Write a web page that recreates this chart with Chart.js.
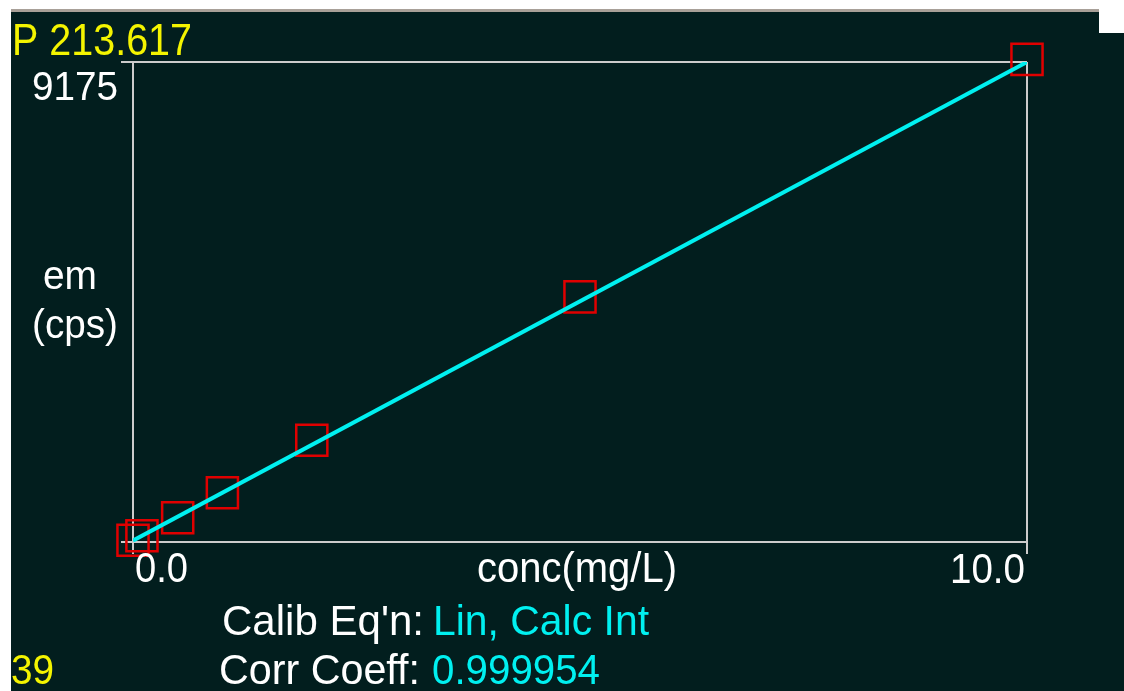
<!DOCTYPE html>
<html>
<head>
<meta charset="utf-8">
<script src="https://cdn.jsdelivr.net/npm/chart.js@4.4.1/dist/chart.umd.min.js"></script>
<style>
  html, body { margin: 0; padding: 0; background: #ffffff; width: 1124px; height: 691px; overflow: hidden; }
  #panel { position: absolute; left: 11px; top: 9px; width: 1113px; height: 682px; background: #021e1e; border-top: 3px solid #a8a098; box-sizing: border-box; }
  #notch { position: absolute; left: 1099px; top: 0; width: 25px; height: 33px; background: #ffffff; }
  #c { position: absolute; left: 0; top: 0; }
</style>
</head>
<body>
<div id="panel"></div>
<div id="notch"></div>
<canvas id="c" width="1124" height="691"></canvas>
<script>
// ---- data ----
const standardConc = [0, 0.1, 0.5, 1, 2, 5, 10];          // mg/L
const standardCps  = [34, 120, 464, 941, 1944, 4686, 9226]; // em (cps)
const fitConc = [0, 10];
const fitCps  = [26, 9175];
const xTickValues = [0, 10];
const xTickLabels = ['0.0', '10.0'];
const yTickValues = [0, 9175];
const yTickLabel = '9175';
const wavelengthLabel = 'P 213.617';
const cornerNumber = '39';
const calibEqn = 'Lin, Calc Int';
const corrCoeff = '0.999954';

const CYAN = '#00f0f0', RED = '#e00000', FRAME = '#cccccc', YELLOW = '#f4f400', WHITE = '#ffffff';

function fitText(ctx, text, left, right, baseline, size, color) {
  ctx.save();
  ctx.font = size + 'px "Liberation Sans", Arial, sans-serif';
  ctx.textBaseline = 'alphabetic';
  ctx.textAlign = 'left';
  const w = ctx.measureText(text).width;
  const sx = (right - left) / w;
  ctx.translate(left, baseline);
  ctx.scale(sx, 1);
  ctx.fillStyle = color;
  ctx.fillText(text, 0, 0);
  ctx.restore();
}

const textPlugin = {
  id: 'texts',
  afterDraw(chart) {
    const ctx = chart.ctx;
    fitText(ctx, wavelengthLabel, 12, 192, 55, 45, YELLOW);
    fitText(ctx, yTickLabel, 32, 118, 100, 41, WHITE);
    fitText(ctx, 'em', 43, 97, 289, 41, WHITE);
    fitText(ctx, '(cps)', 32, 118, 338, 41, WHITE);
    fitText(ctx, xTickLabels[0], 135, 188, 582, 42, WHITE);
    fitText(ctx, 'conc(mg/L)', 477, 677, 582, 42, WHITE);
    fitText(ctx, xTickLabels[1], 950, 1025, 583, 42, WHITE);
    fitText(ctx, "Calib Eq'n:", 222, 424, 635, 42, WHITE);
    fitText(ctx, calibEqn, 433, 649, 635, 42, CYAN);
    fitText(ctx, 'Corr Coeff:', 219, 420, 684, 42, WHITE);
    fitText(ctx, corrCoeff, 432, 600, 684, 42, CYAN);
    fitText(ctx, cornerNumber, 11, 54, 684, 42, YELLOW);
  }
};

new Chart(document.getElementById('c'), {
  type: 'scatter',
  data: {
    datasets: [
      {
        type: 'line',
        data: fitConc.map((x, i) => ({ x, y: fitCps[i] })),
        borderColor: CYAN,
        borderWidth: 4,
        pointRadius: 0,
        fill: false,
        order: 0
      },
      {
        data: standardConc.map((x, i) => ({ x, y: standardCps[i] })),
        pointStyle: 'rect',
        pointRadius: 22,
        borderColor: RED,
        borderWidth: 2.5,
        backgroundColor: 'rgba(0,0,0,0)',
        clip: false,
        order: 1
      }
    ]
  },
  options: {
    responsive: false,
    animation: false,
    events: [],
    layout: { padding: { left: 0, top: 62, right: 97, bottom: 0 } },
    plugins: { legend: { display: false }, tooltip: { enabled: false } },
    scales: {
      x: {
        type: 'linear', min: 0, max: 10,
        afterBuildTicks: s => { s.ticks = xTickValues.map(v => ({ value: v })); },
        afterFit: s => { s.height = 149; },
        ticks: { display: false },
        border: { display: false },
        grid: { color: FRAME, lineWidth: 2, drawTicks: true, tickLength: 12 }
      },
      y: {
        type: 'linear', min: 0, max: 9175,
        afterBuildTicks: s => { s.ticks = yTickValues.map(v => ({ value: v })); },
        afterFit: s => { s.width = 133; },
        ticks: { display: false },
        border: { display: false },
        grid: { color: FRAME, lineWidth: 2, drawTicks: true, tickLength: 12 }
      }
    }
  },
  plugins: [textPlugin]
});
</script>
</body>
</html>
